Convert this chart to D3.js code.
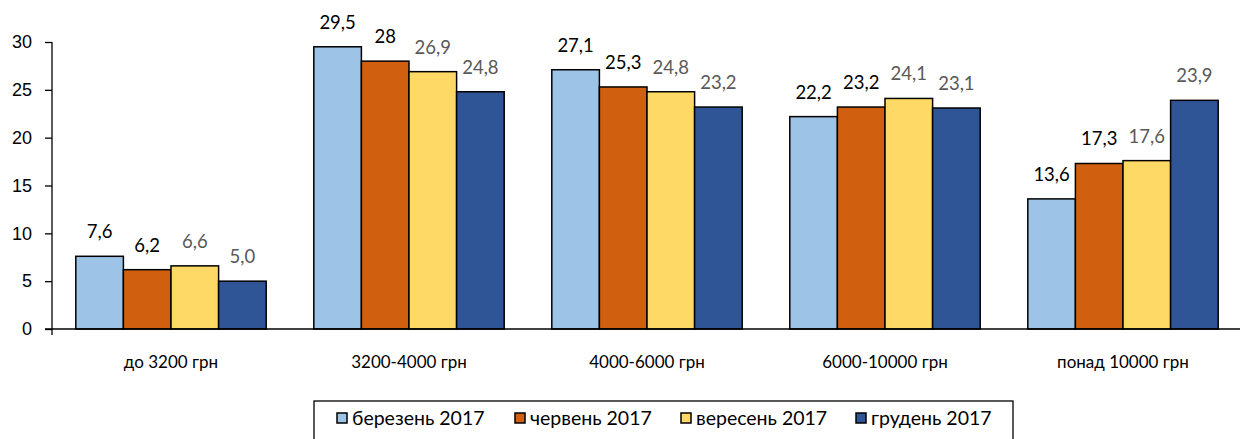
<!DOCTYPE html>
<html>
<head>
<meta charset="utf-8">
<script src="https://cdn.jsdelivr.net/npm/d3@7"></script>
<style>
  body { margin: 0; background: #fff; }
  svg { display: block; font-family: Lato, "Open Sans", sans-serif; }
</style>
</head>
<body>
<div id="chart"></div>
<script>
const categories = ['до 3200 грн', '3200-4000 грн', '4000-6000 грн', '6000-10000 грн', 'понад 10000 грн'];
const seriesNames = ['березень 2017', 'червень 2017', 'вересень 2017', 'грудень 2017'];
const march = [7.6, 29.5, 27.1, 22.2, 13.6];
const june = [6.2, 28, 25.3, 23.2, 17.3];
const september = [6.6, 26.9, 24.8, 24.1, 17.6];
const december = [5.0, 24.8, 23.2, 23.1, 23.9];
const marchLabels = ['7,6', '29,5', '27,1', '22,2', '13,6'];
const juneLabels = ['6,2', '28', '25,3', '23,2', '17,3'];
const septemberLabels = ['6,6', '26,9', '24,8', '24,1', '17,6'];
const decemberLabels = ['5,0', '24,8', '23,2', '23,1', '23,9'];
const yTicks = [0, 5, 10, 15, 20, 25, 30];

const width = 1240;
const height = 439;

const colors = ['#9DC3E6', '#D0600F', '#FFD966', '#2F5597'];
const labelColors = ['#000', '#000', '#595959', '#595959'];

const values = [march, june, september, december];
const labels = [marchLabels, juneLabels, septemberLabels, decemberLabels];

const svg = d3.select('#chart')
    .append('svg')
    .attr('width', width)
    .attr('height', height);

const x0 = d3.scaleBand()
    .domain(categories)
    .range([52, 1242])
    .paddingInner(0.2)
    .paddingOuter(0.1);

const x1 = d3.scaleBand()
    .domain(d3.range(seriesNames.length))
    .range([0, x0.bandwidth()]);

const y = d3.scaleLinear()
    .domain([0, 30])
    .range([329, 42]);

// y axis
const yAxis = svg.append('g')
    .attr('transform', 'translate(52,0)')
    .call(d3.axisLeft(y).tickValues(yTicks).tickSize(7).tickPadding(13));
yAxis.select('.domain').attr('d', 'M0,42V335').attr('stroke', '#000').attr('stroke-width', 1.3);
yAxis.selectAll('.tick line').attr('stroke', '#000').attr('stroke-width', 1.3);
yAxis.selectAll('.tick text')
    .attr('fill', '#000')
    .style('font-size', '18px');

// bars
const groups = svg.selectAll('.group')
    .data(categories)
    .enter()
    .append('g')
    .attr('transform', (d) => `translate(${x0(d)},0)`);

const cells = (d, i) => values.map((s, k) => ({ k, v: s[i], label: labels[k][i] }));

groups.selectAll('rect')
    .data(cells)
    .enter()
    .append('rect')
    .attr('x', (d) => x1(d.k))
    .attr('y', (d) => y(d.v))
    .attr('width', x1.bandwidth())
    .attr('height', (d) => y(0) - y(d.v))
    .attr('fill', (d) => colors[d.k])
    .attr('stroke', '#000')
    .attr('stroke-width', 1.5);

groups.selectAll('.val')
    .data(cells)
    .enter()
    .append('text')
    .attr('class', 'val')
    .attr('x', (d) => x1(d.k) + x1.bandwidth() / 2)
    .attr('y', (d) => y(d.v) - 18)
    .attr('text-anchor', 'middle')
    .attr('fill', (d) => labelColors[d.k])
    .style('font-size', '18.5px')
    .text((d) => d.label);

// x axis line
svg.append('line')
    .attr('x1', 45)
    .attr('x2', width)
    .attr('y1', y(0))
    .attr('y2', y(0))
    .attr('stroke', '#000')
    .attr('stroke-width', 1.3);

// category labels
svg.selectAll('.cat')
    .data(categories)
    .enter()
    .append('text')
    .attr('x', (d) => x0(d) + x0.bandwidth() / 2)
    .attr('y', 368)
    .attr('text-anchor', 'middle')
    .style('font-size', '17px')
    .text((d) => d);

// legend
svg.append('rect')
    .attr('x', 314)
    .attr('y', 401)
    .attr('width', 699)
    .attr('height', 50)
    .attr('fill', 'none')
    .attr('stroke', '#000')
    .attr('stroke-width', 1.3);

const legendX = [337, 515, 681, 856];
const legend = svg.selectAll('.legend')
    .data(seriesNames)
    .enter()
    .append('g')
    .attr('transform', (d, i) => `translate(${legendX[i]},0)`);

legend.append('rect')
    .attr('x', 0)
    .attr('y', 413)
    .attr('width', 10)
    .attr('height', 10)
    .attr('fill', (d, i) => colors[i])
    .attr('stroke', '#000')
    .attr('stroke-width', 1.5);

legend.append('text')
    .attr('x', 15)
    .attr('y', 425)
    .style('font-size', '19.5px')
    .text((d) => d);
</script>
</body>
</html>
